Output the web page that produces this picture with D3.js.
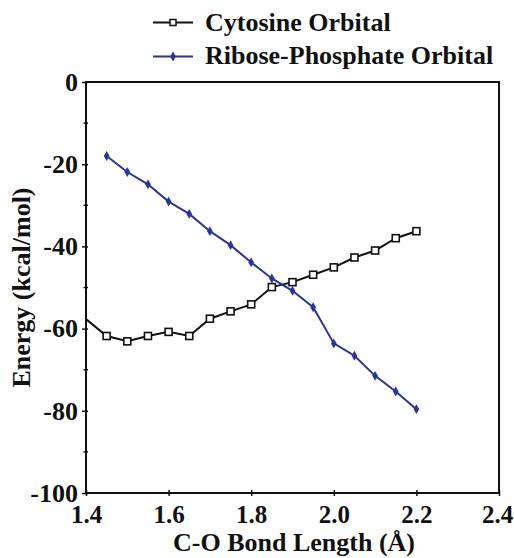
<!DOCTYPE html>
<html><head><meta charset="utf-8">
<script src="https://cdn.jsdelivr.net/npm/d3@7"></script>
<style>body{margin:0;background:#fff}svg{display:block}text{font-family:"Liberation Serif","Times New Roman",Times,serif;font-weight:bold;fill:#111}</style>
</head><body>
<script>
const cytX = [1.40,1.45,1.50,1.55,1.60,1.65,1.70,1.75,1.80,1.85,1.90,1.95,2.00,2.05,2.10,2.15,2.20];
const cytY = [-57.7,-61.8,-63.1,-61.8,-60.8,-61.8,-57.6,-55.8,-54.1,-49.9,-48.7,-46.9,-45.1,-42.7,-41.0,-38.0,-36.3];
const ribX = [1.45,1.50,1.55,1.60,1.65,1.70,1.75,1.80,1.85,1.90,1.95,2.00,2.05,2.10,2.15,2.20];
const ribY = [-18.0,-21.9,-24.9,-29.1,-32.1,-36.3,-39.7,-43.9,-47.8,-50.8,-54.8,-63.6,-66.6,-71.5,-75.3,-79.6];
const xTicks = [1.4,1.6,1.8,2.0,2.2,2.4];
const yTicks = [0,-20,-40,-60,-80,-100];
const yMinor = [-10,-30,-50,-70,-90];
const seriesNames = ["Cytosine Orbital","Ribose-Phosphate Orbital"];
const colors = ["#111111","#2b3592"];

const W=514,H=558;
const svg=d3.select("body").append("svg").attr("width",W).attr("height",H);
const L=86,R=499,T=82,B=493;
const x=d3.scaleLinear().domain([1.4,2.4]).range([L,R]);
const y=d3.scaleLinear().domain([-100,0]).range([B,T]);

// frame
svg.append("rect").attr("x",L).attr("y",T).attr("width",R-L).attr("height",B-T)
  .attr("fill","none").attr("stroke","#111").attr("stroke-width",2);

// axes
const xa=svg.append("g").attr("transform",`translate(0,${B})`)
  .call(d3.axisBottom(x).tickValues(xTicks).tickFormat(d3.format(".1f")).tickSizeInner(3).tickSizeOuter(0).tickPadding(9));
xa.select(".domain").remove();
xa.selectAll(".tick line").attr("y1",-3).attr("stroke","#111").attr("stroke-width",1.5);
xa.selectAll("text").attr("font-size",25).attr("dy","0.72em").attr("dx",d=>d===2.4?-2:0);

const ya=svg.append("g").attr("transform",`translate(${L},0)`)
  .call(d3.axisLeft(y).tickValues(yTicks).tickFormat(d=>String(d)).tickSizeInner(4).tickSizeOuter(0).tickPadding(4));
ya.select(".domain").remove();
ya.selectAll(".tick line").attr("x1",2).attr("stroke","#111").attr("stroke-width",1.5);
ya.selectAll("text").attr("font-size",26);

svg.append("g").selectAll("line").data(yMinor).join("line")
  .attr("x1",L-2.5).attr("x2",L+2).attr("y1",d=>y(d)).attr("y2",d=>y(d)).attr("stroke","#111").attr("stroke-width",1.5);

// axis titles
svg.append("text").attr("x",294).attr("y",551).attr("text-anchor","middle").attr("font-size",26).text("C-O Bond Length (Å)");
svg.append("text").attr("transform",`translate(30,${(T+B)/2}) rotate(-90)`).attr("text-anchor","middle").attr("font-size",26).text("Energy (kcal/mol)");

const line=d3.line().x(d=>x(d[0])).y(d=>y(d[1]));
const cyt=cytX.map((v,i)=>[v,cytY[i]]);
const rib=ribX.map((v,i)=>[v,ribY[i]]);

svg.append("path").datum(cyt).attr("d",line).attr("fill","none").attr("stroke",colors[0]).attr("stroke-width",2);
svg.append("g").selectAll("rect").data(cyt.slice(1)).join("rect")
  .attr("x",d=>x(d[0])-3.5).attr("y",d=>y(d[1])-3.5).attr("width",7).attr("height",7)
  .attr("fill","#fff").attr("stroke",colors[0]).attr("stroke-width",1.6);

svg.append("path").datum(rib).attr("d",line).attr("fill","none").attr("stroke",colors[1]).attr("stroke-width",2);
const diamond=d3.symbol().type(d3.symbolDiamond).size(28);
svg.append("g").selectAll("path").data(rib).join("path")
  .attr("transform",d=>`translate(${x(d[0])},${y(d[1])})`).attr("d",diamond).attr("fill",colors[1]);

// legend
const lg=svg.append("g");
const rows=[{y:31,ly:22.5},{y:64,ly:56.5}];
rows.forEach((r,i)=>{
  lg.append("line").attr("x1",153).attr("x2",193).attr("y1",r.ly).attr("y2",r.ly).attr("stroke",colors[i]).attr("stroke-width",2);
  if(i===0){
    lg.append("rect").attr("x",173-3).attr("y",r.ly-3).attr("width",6).attr("height",6).attr("fill","#fff").attr("stroke",colors[0]).attr("stroke-width",1.5);
  } else {
    lg.append("path").attr("transform",`translate(173,${r.ly})`).attr("d",diamond).attr("fill",colors[1]);
  }
  lg.append("text").attr("x",205).attr("y",r.y).attr("font-size",26).text(seriesNames[i]);
});
</script>
</body></html>
